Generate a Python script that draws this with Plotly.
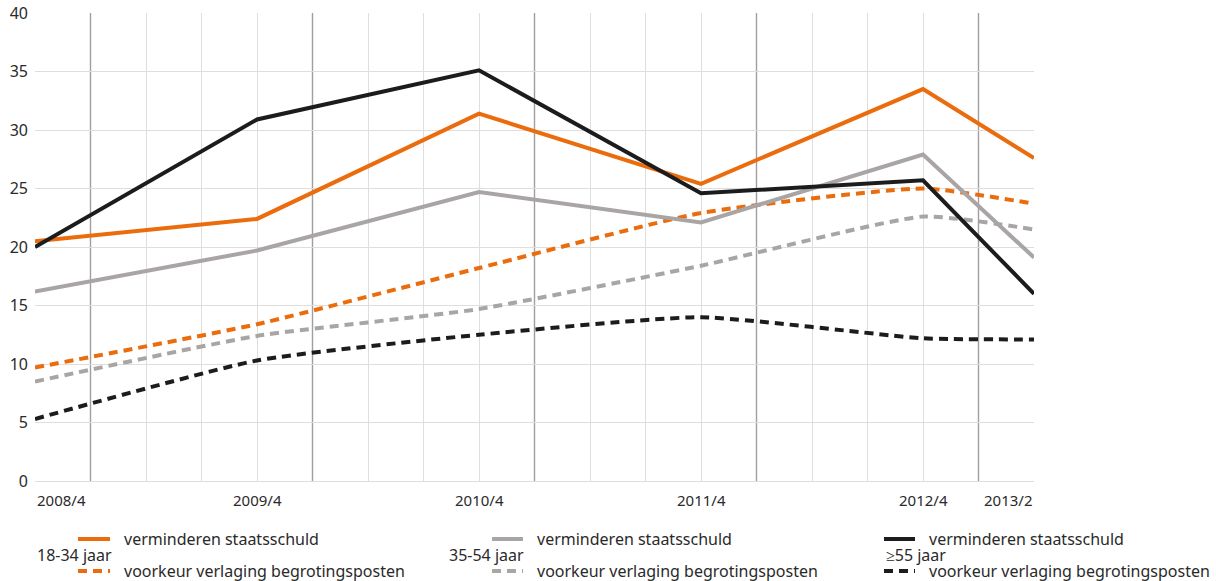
import plotly.graph_objects as go

# ---- data ----
quarters = ["2008/4", "2009/4", "2010/4", "2011/4", "2012/4", "2013/2"]
quarter_index = [0, 4, 8, 12, 16, 18]          # position in quarters since 2008/4
year_start_index = [1, 5, 9, 13, 17]           # Q1 of each year (darker grid lines)
all_quarters = list(range(0, 19))

young_debt = [20.5, 22.4, 31.4, 25.4, 33.5, 27.6]
young_cut = [9.7, 13.4, 18.2, 22.9, 25.0, 23.7]
mid_debt = [16.2, 19.7, 24.7, 22.1, 27.9, 19.1]
mid_cut = [8.5, 12.4, 14.7, 18.4, 22.6, 21.5]
old_debt = [20.0, 30.9, 35.1, 24.6, 25.7, 16.0]
old_cut = [5.3, 10.3, 12.5, 14.0, 12.2, 12.1]

groups = ["18-34 jaar", "35-54 jaar", "≥55 jaar"]
series_names = ["verminderen staatsschuld", "voorkeur verlaging begrotingsposten"]

ORANGE = "#eb6c0c"
GRAY = "#a9a5a5"
BLACK = "#1c1c1c"
colors = [ORANGE, GRAY, BLACK]
DASH = "9px,6px"
FONT = "Noto Sans"
TXT = "#2a2a2a"
LW = 4

fig = go.Figure()

data = [(young_debt, young_cut), (mid_debt, mid_cut), (old_debt, old_cut)]
# dashed first so solid lines are on top
for (debt, cut), c in zip(data, colors):
    fig.add_trace(go.Scatter(x=quarter_index, y=cut, mode="lines",
                             line=dict(color=c, width=LW, dash=DASH, shape="spline", smoothing=0.5),
                             showlegend=False, hoverinfo="skip"))
for (debt, cut), c in zip(data, colors):
    fig.add_trace(go.Scatter(x=quarter_index, y=debt, mode="lines",
                             line=dict(color=c, width=LW),
                             showlegend=False, hoverinfo="skip"))

W, H = 1216, 581
L, R, T, B = 35, 1034, 13, 481
ml, mr, mt, mb = L, W - R, T, H - B

# darker year-boundary grid lines
for xi in year_start_index:
    fig.add_shape(type="line", xref="x", yref="paper", x0=xi, x1=xi, y0=0, y1=1,
                  line=dict(color="#a29ea0", width=1.4), layer="between")

# x tick labels as annotations (edge labels kept inside plot)
for i, (q, xi) in enumerate(zip(quarters, quarter_index)):
    anchor = "left" if i == 0 else ("right" if i == len(quarters) - 1 else "center")
    fig.add_annotation(x=xi, y=0, xref="x", yref="paper", text=q, showarrow=False,
                       xanchor=anchor, yanchor="top", yshift=-7,
                       font=dict(family=FONT, size=15, color=TXT))

# custom legend
def px_x(p):
    return (p - L) / (R - L)

def px_y(p):
    return (B - p) / (B - T)

legend_pos = [  # label left x, sample x0, sample x1, text x
    (35, 78, 110, 122),
    (447, 492, 523, 535),
    (884, 884, 915, 927),
]
for g, c, (lx, sx0, sx1, tx) in zip(groups, colors, legend_pos):
    for row_y, dash in ((539, None), (571, DASH)):
        fig.add_shape(type="line", xref="paper", yref="paper",
                      x0=px_x(sx0), x1=px_x(sx1), y0=px_y(row_y), y1=px_y(row_y),
                      line=dict(color=c, width=LW, dash=dash if dash else "solid"))
    for row_y, name in zip((539, 571), series_names):
        fig.add_annotation(x=px_x(tx), y=px_y(row_y), xref="paper", yref="paper",
                           text=name, showarrow=False, xanchor="left", yanchor="middle",
                           font=dict(family=FONT, size=16, color=TXT))
    fig.add_annotation(x=px_x(lx), y=px_y(555), xref="paper", yref="paper",
                       text=g, showarrow=False, xanchor="left", yanchor="middle",
                       font=dict(family=FONT, size=16, color=TXT))

light_grid = [q for q in all_quarters if q not in year_start_index]

fig.update_layout(
    width=W, height=H,
    margin=dict(l=ml, r=mr, t=mt, b=mb, pad=0, autoexpand=False),
    paper_bgcolor="white", plot_bgcolor="white",
    showlegend=False,
    font=dict(family=FONT, size=15, color=TXT),
    xaxis=dict(range=[0, 18], tickvals=light_grid, ticktext=[""] * len(light_grid),
               showgrid=True, gridcolor="#dedede", gridwidth=1.3, automargin=False,
               zeroline=False, showline=False, ticks="", fixedrange=True),
    yaxis=dict(range=[0, 40], dtick=5, showgrid=True, gridcolor="#dedede", gridwidth=1.3,
               zeroline=True, zerolinecolor="#dedede", zerolinewidth=1.3, automargin=False,
               showline=False, ticks="", ticklabelstandoff=6,
               tickfont=dict(family=FONT, size=16, color=TXT)),
)

fig.write_html("out.html", config={"displayModeBar": False},
               post_script="document.body.style.margin='0';document.body.style.overflow='hidden';")
